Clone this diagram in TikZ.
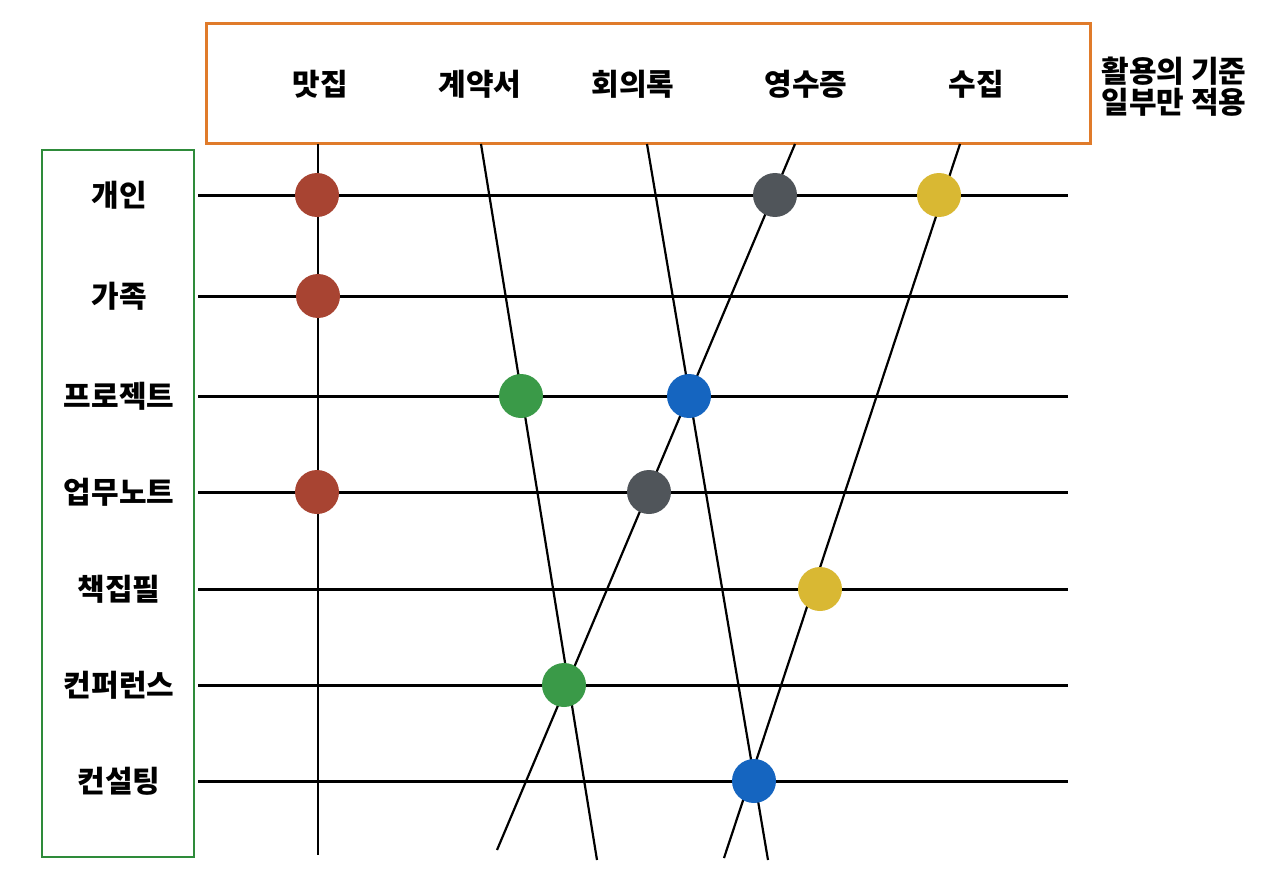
\documentclass[tikz,border=0pt]{standalone}
\usepackage{fontspec}
\newfontfamily\kr{Noto Sans CJK KR}
\definecolor{orangebox}{HTML}{E07B2A}
\definecolor{greenbox}{HTML}{2E8B3A}
\definecolor{cred}{HTML}{A84432}
\definecolor{cgrey}{HTML}{50555A}
\definecolor{cyellow}{HTML}{D9B833}
\definecolor{cgreen}{HTML}{3A9A48}
\definecolor{cblue}{HTML}{1565C0}
\tikzset{
  hline/.style={line width=3pt, black},
  sline/.style={line width=2.2pt, black},
  dot/.style={circle, minimum size=44pt, inner sep=0pt, draw=none},
  lbl/.style={font=\kr\bfseries\fontsize{30}{31}\selectfont, inner sep=0pt},
}
\begin{document}
\begin{tikzpicture}[x=1pt,y=-1pt]
\useasboundingbox (0,0) rectangle (1280,888);
% boxes
\node[draw=orangebox, line width=3pt, minimum width=884pt, minimum height=120pt, inner sep=0pt] (top) at (648,84) {};
\node[draw=greenbox, line width=2.8pt, minimum width=152pt, minimum height=707pt, inner sep=0pt] (side) at (118,503.5) {};
% header labels
\node[lbl] (c1) at (320,84) {맛집};
\node[lbl] (c2) at (480,84) {계약서};
\node[lbl] (c3) at (633,84) {회의록};
\node[lbl] (c4) at (806,84) {영수증};
\node[lbl] (c5) at (976,84) {수집};
\node[lbl, align=center] (note) at (1174,87) {활용의 기준\\일부만 적용};
% row labels
\foreach \n/\y/\t in {1/195/개인, 2/296/가족, 3/396/프로젝트, 4/492/업무노트, 5/589/책집필, 6/685/컨퍼런스, 7/781/컨설팅}{
  \node[lbl] (r\n) at (119,\y) {\t};
  \coordinate (hs\n) at (198,\y);
  \coordinate (he\n) at (1068,\y);
  \draw[hline] (hs\n) -- (he\n);
}
% column line end points
\coordinate (v1a) at (318,144); \coordinate (v1b) at (318,855);
\coordinate (v2a) at (481,144); \coordinate (v2b) at (597,860);
\coordinate (v3a) at (647,144); \coordinate (v3b) at (768,860);
\coordinate (v4a) at (795,144); \coordinate (v4b) at (497,850);
\coordinate (v5a) at (960,144); \coordinate (v5b) at (724,858);
\foreach \i in {1,...,5}{\draw[sline] (v\i a) -- (v\i b);}
% dots
\node[dot, fill=cred] (d1) at (317,195) {};
\node[dot, fill=cred] (d2) at (318,296) {};
\node[dot, fill=cred] (d3) at (317,492) {};
\node[dot, fill=cgrey] (d4) at (775,195) {};
\node[dot, fill=cgrey] (d5) at (649,492) {};
\node[dot, fill=cyellow] (d6) at (939,195) {};
\node[dot, fill=cyellow] (d7) at (820,589) {};
\node[dot, fill=cgreen] (d8) at (521,396) {};
\node[dot, fill=cgreen] (d9) at (564,685) {};
\node[dot, fill=cblue] (d10) at (689,396) {};
\node[dot, fill=cblue] (d11) at (754,781) {};
\end{tikzpicture}
\end{document}
